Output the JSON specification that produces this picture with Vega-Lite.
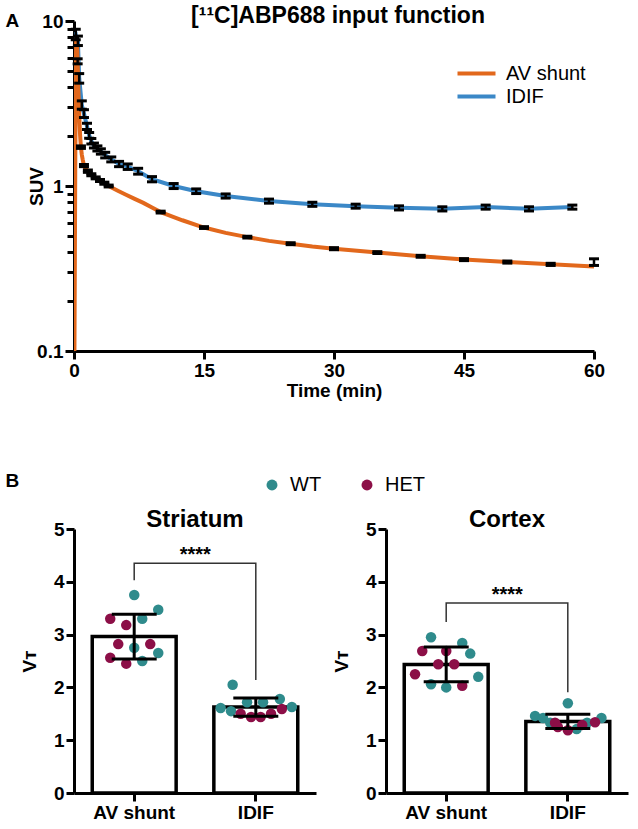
{
  "$schema": "https://vega.github.io/schema/vega-lite/v6.json",
  "padding": {"left": 5, "top": 5, "right": 5, "bottom": 5},
  "background": "white",
  "title": {"text": "A", "anchor": "start", "frame": "bounds", "fontSize": 19, "fontWeight": "bold", "font": "Liberation Sans", "color": "black", "offset": -26},
  "spacing": 72,
  "resolve": {"scale": {"color": "independent"}, "legend": {"color": "independent"}},
  "datasets": {
    "curve": [
      {"series": "AV shunt", "t": 0.05, "suv": 0.1},
      {"series": "AV shunt", "t": 0.1, "suv": 0.35},
      {"series": "AV shunt", "t": 0.15, "suv": 1.5},
      {"series": "AV shunt", "t": 0.2, "suv": 4.5},
      {"series": "AV shunt", "t": 0.25, "suv": 7.6},
      {"series": "AV shunt", "t": 0.3, "suv": 7.9},
      {"series": "AV shunt", "t": 0.35, "suv": 7.3},
      {"series": "AV shunt", "t": 0.42, "suv": 5.7},
      {"series": "AV shunt", "t": 0.5, "suv": 3.9},
      {"series": "AV shunt", "t": 0.6, "suv": 2.7},
      {"series": "AV shunt", "t": 0.7, "suv": 2.05},
      {"series": "AV shunt", "t": 0.8, "suv": 1.72},
      {"series": "AV shunt", "t": 0.9, "suv": 1.55},
      {"series": "AV shunt", "t": 1.0, "suv": 1.45},
      {"series": "AV shunt", "t": 1.15, "suv": 1.33},
      {"series": "AV shunt", "t": 1.3, "suv": 1.28},
      {"series": "AV shunt", "t": 1.6, "suv": 1.23},
      {"series": "AV shunt", "t": 2.0, "suv": 1.17},
      {"series": "AV shunt", "t": 2.5, "suv": 1.12},
      {"series": "AV shunt", "t": 3.0, "suv": 1.08},
      {"series": "AV shunt", "t": 3.5, "suv": 1.04},
      {"series": "AV shunt", "t": 4.0, "suv": 1.0},
      {"series": "AV shunt", "t": 5, "suv": 0.94},
      {"series": "AV shunt", "t": 6, "suv": 0.885},
      {"series": "AV shunt", "t": 7, "suv": 0.835},
      {"series": "AV shunt", "t": 8, "suv": 0.79},
      {"series": "AV shunt", "t": 9, "suv": 0.74},
      {"series": "AV shunt", "t": 10, "suv": 0.695},
      {"series": "AV shunt", "t": 12.5, "suv": 0.62},
      {"series": "AV shunt", "t": 15, "suv": 0.56},
      {"series": "AV shunt", "t": 17.5, "suv": 0.52},
      {"series": "AV shunt", "t": 20, "suv": 0.49},
      {"series": "AV shunt", "t": 22.5, "suv": 0.465},
      {"series": "AV shunt", "t": 25, "suv": 0.447},
      {"series": "AV shunt", "t": 27.5, "suv": 0.43},
      {"series": "AV shunt", "t": 30, "suv": 0.417},
      {"series": "AV shunt", "t": 35, "suv": 0.395},
      {"series": "AV shunt", "t": 40, "suv": 0.375},
      {"series": "AV shunt", "t": 45, "suv": 0.358},
      {"series": "AV shunt", "t": 50, "suv": 0.346},
      {"series": "AV shunt", "t": 55, "suv": 0.335},
      {"series": "AV shunt", "t": 60, "suv": 0.325},
      {"series": "IDIF", "t": 0.15, "suv": 8.6},
      {"series": "IDIF", "t": 0.2, "suv": 8.3},
      {"series": "IDIF", "t": 0.45, "suv": 7.6},
      {"series": "IDIF", "t": 0.6, "suv": 4.5},
      {"series": "IDIF", "t": 0.9, "suv": 3.1},
      {"series": "IDIF", "t": 1.15, "suv": 2.75},
      {"series": "IDIF", "t": 1.5, "suv": 2.3},
      {"series": "IDIF", "t": 1.75, "suv": 2.03},
      {"series": "IDIF", "t": 2.0, "suv": 1.87},
      {"series": "IDIF", "t": 2.3, "suv": 1.76},
      {"series": "IDIF", "t": 2.7, "suv": 1.69},
      {"series": "IDIF", "t": 3.1, "suv": 1.62},
      {"series": "IDIF", "t": 3.6, "suv": 1.54},
      {"series": "IDIF", "t": 4.3, "suv": 1.45},
      {"series": "IDIF", "t": 5.2, "suv": 1.36},
      {"series": "IDIF", "t": 6.2, "suv": 1.31},
      {"series": "IDIF", "t": 7.4, "suv": 1.23},
      {"series": "IDIF", "t": 9.0, "suv": 1.1},
      {"series": "IDIF", "t": 11.5, "suv": 1.0},
      {"series": "IDIF", "t": 14.1, "suv": 0.93},
      {"series": "IDIF", "t": 17.5, "suv": 0.87},
      {"series": "IDIF", "t": 22.5, "suv": 0.81},
      {"series": "IDIF", "t": 27.5, "suv": 0.775},
      {"series": "IDIF", "t": 32.5, "suv": 0.755},
      {"series": "IDIF", "t": 37.5, "suv": 0.737},
      {"series": "IDIF", "t": 42.5, "suv": 0.727},
      {"series": "IDIF", "t": 47.5, "suv": 0.745},
      {"series": "IDIF", "t": 52.5, "suv": 0.727},
      {"series": "IDIF", "t": 57.5, "suv": 0.745}
    ],
    "ebars": [
      {"series": "IDIF", "t": 0.2, "lo": 7.7, "hi": 8.9},
      {"series": "IDIF", "t": 0.45, "lo": 7.1, "hi": 8.1},
      {"series": "IDIF", "t": 0.6, "lo": 4.2, "hi": 4.8},
      {"series": "IDIF", "t": 0.9, "lo": 2.92, "hi": 3.28},
      {"series": "IDIF", "t": 1.15, "lo": 2.6, "hi": 2.9},
      {"series": "IDIF", "t": 1.5, "lo": 2.2, "hi": 2.4},
      {"series": "IDIF", "t": 1.75, "lo": 1.95, "hi": 2.11},
      {"series": "IDIF", "t": 2.0, "lo": 1.8, "hi": 1.94},
      {"series": "IDIF", "t": 2.3, "lo": 1.7, "hi": 1.82},
      {"series": "IDIF", "t": 2.7, "lo": 1.63, "hi": 1.75},
      {"series": "IDIF", "t": 3.1, "lo": 1.56, "hi": 1.68},
      {"series": "IDIF", "t": 3.6, "lo": 1.48, "hi": 1.6},
      {"series": "IDIF", "t": 4.3, "lo": 1.4, "hi": 1.5},
      {"series": "IDIF", "t": 5.2, "lo": 1.31, "hi": 1.41},
      {"series": "IDIF", "t": 6.2, "lo": 1.26, "hi": 1.36},
      {"series": "IDIF", "t": 7.4, "lo": 1.18, "hi": 1.28},
      {"series": "IDIF", "t": 9.0, "lo": 1.06, "hi": 1.14},
      {"series": "IDIF", "t": 11.5, "lo": 0.965, "hi": 1.035},
      {"series": "IDIF", "t": 14.1, "lo": 0.9, "hi": 0.96},
      {"series": "IDIF", "t": 17.5, "lo": 0.845, "hi": 0.895},
      {"series": "IDIF", "t": 22.5, "lo": 0.787, "hi": 0.833},
      {"series": "IDIF", "t": 27.5, "lo": 0.753, "hi": 0.797},
      {"series": "IDIF", "t": 32.5, "lo": 0.734, "hi": 0.776},
      {"series": "IDIF", "t": 37.5, "lo": 0.716, "hi": 0.758},
      {"series": "IDIF", "t": 42.5, "lo": 0.706, "hi": 0.748},
      {"series": "IDIF", "t": 47.5, "lo": 0.724, "hi": 0.766},
      {"series": "IDIF", "t": 52.5, "lo": 0.706, "hi": 0.748},
      {"series": "IDIF", "t": 57.5, "lo": 0.724, "hi": 0.766},
      {"series": "AV shunt", "t": 0.42, "lo": 5.5, "hi": 5.9},
      {"series": "AV shunt", "t": 0.8, "lo": 1.69, "hi": 1.75},
      {"series": "AV shunt", "t": 1.15, "lo": 1.31, "hi": 1.35},
      {"series": "AV shunt", "t": 1.6, "lo": 1.21, "hi": 1.25},
      {"series": "AV shunt", "t": 2.0, "lo": 1.155, "hi": 1.185},
      {"series": "AV shunt", "t": 2.5, "lo": 1.105, "hi": 1.135},
      {"series": "AV shunt", "t": 3.0, "lo": 1.065, "hi": 1.095},
      {"series": "AV shunt", "t": 3.5, "lo": 1.025, "hi": 1.055},
      {"series": "AV shunt", "t": 4.0, "lo": 0.987, "hi": 1.013},
      {"series": "AV shunt", "t": 10, "lo": 0.686, "hi": 0.704},
      {"series": "AV shunt", "t": 15, "lo": 0.553, "hi": 0.567},
      {"series": "AV shunt", "t": 20, "lo": 0.484, "hi": 0.496},
      {"series": "AV shunt", "t": 25, "lo": 0.441, "hi": 0.453},
      {"series": "AV shunt", "t": 30, "lo": 0.411, "hi": 0.423},
      {"series": "AV shunt", "t": 35, "lo": 0.39, "hi": 0.4},
      {"series": "AV shunt", "t": 40, "lo": 0.37, "hi": 0.38},
      {"series": "AV shunt", "t": 45, "lo": 0.353, "hi": 0.363},
      {"series": "AV shunt", "t": 50, "lo": 0.341, "hi": 0.351},
      {"series": "AV shunt", "t": 55, "lo": 0.33, "hi": 0.34},
      {"series": "AV shunt", "t": 60, "lo": 0.33, "hi": 0.362}
    ],
    "vt": [
      {"region": "Striatum", "method": "AV shunt", "geno": "WT", "v": 3.75, "slot": 0},
      {"region": "Striatum", "method": "AV shunt", "geno": "WT", "v": 3.47, "slot": 3},
      {"region": "Striatum", "method": "AV shunt", "geno": "HET", "v": 3.3, "slot": -3},
      {"region": "Striatum", "method": "AV shunt", "geno": "HET", "v": 3.18, "slot": -1},
      {"region": "Striatum", "method": "AV shunt", "geno": "WT", "v": 3.3, "slot": 1},
      {"region": "Striatum", "method": "AV shunt", "geno": "HET", "v": 2.82, "slot": -2},
      {"region": "Striatum", "method": "AV shunt", "geno": "HET", "v": 2.82, "slot": 2},
      {"region": "Striatum", "method": "AV shunt", "geno": "WT", "v": 2.75, "slot": 0},
      {"region": "Striatum", "method": "AV shunt", "geno": "WT", "v": 2.65, "slot": 3},
      {"region": "Striatum", "method": "AV shunt", "geno": "HET", "v": 2.56, "slot": -3},
      {"region": "Striatum", "method": "AV shunt", "geno": "HET", "v": 2.45, "slot": -1},
      {"region": "Striatum", "method": "AV shunt", "geno": "WT", "v": 2.5, "slot": 1},
      {"region": "Striatum", "method": "IDIF", "geno": "WT", "v": 2.05, "slot": -2.9},
      {"region": "Striatum", "method": "IDIF", "geno": "WT", "v": 1.72, "slot": -1.1},
      {"region": "Striatum", "method": "IDIF", "geno": "WT", "v": 1.72, "slot": 0.9},
      {"region": "Striatum", "method": "IDIF", "geno": "WT", "v": 1.78, "slot": 3},
      {"region": "Striatum", "method": "IDIF", "geno": "WT", "v": 1.61, "slot": -4.4},
      {"region": "Striatum", "method": "IDIF", "geno": "WT", "v": 1.55, "slot": -3.1},
      {"region": "Striatum", "method": "IDIF", "geno": "WT", "v": 1.63, "slot": 4.5},
      {"region": "Striatum", "method": "IDIF", "geno": "HET", "v": 1.59, "slot": 3.25},
      {"region": "Striatum", "method": "IDIF", "geno": "HET", "v": 1.5, "slot": -1.9},
      {"region": "Striatum", "method": "IDIF", "geno": "HET", "v": 1.44, "slot": -0.6},
      {"region": "Striatum", "method": "IDIF", "geno": "HET", "v": 1.44, "slot": 0.6},
      {"region": "Striatum", "method": "IDIF", "geno": "HET", "v": 1.5, "slot": 1.9},
      {"region": "Cortex", "method": "AV shunt", "geno": "WT", "v": 2.95, "slot": -1.9},
      {"region": "Cortex", "method": "AV shunt", "geno": "WT", "v": 2.84, "slot": 2},
      {"region": "Cortex", "method": "AV shunt", "geno": "HET", "v": 2.69, "slot": -3},
      {"region": "Cortex", "method": "AV shunt", "geno": "HET", "v": 2.69, "slot": 0},
      {"region": "Cortex", "method": "AV shunt", "geno": "WT", "v": 2.64, "slot": 3},
      {"region": "Cortex", "method": "AV shunt", "geno": "HET", "v": 2.44, "slot": -1},
      {"region": "Cortex", "method": "AV shunt", "geno": "HET", "v": 2.44, "slot": 1},
      {"region": "Cortex", "method": "AV shunt", "geno": "HET", "v": 2.25, "slot": -3.9},
      {"region": "Cortex", "method": "AV shunt", "geno": "WT", "v": 2.2, "slot": 4},
      {"region": "Cortex", "method": "AV shunt", "geno": "WT", "v": 2.06, "slot": -1.9},
      {"region": "Cortex", "method": "AV shunt", "geno": "WT", "v": 2.0, "slot": 0},
      {"region": "Cortex", "method": "AV shunt", "geno": "HET", "v": 2.03, "slot": 2},
      {"region": "Cortex", "method": "IDIF", "geno": "WT", "v": 1.7, "slot": 0},
      {"region": "Cortex", "method": "IDIF", "geno": "WT", "v": 1.46, "slot": -4.1},
      {"region": "Cortex", "method": "IDIF", "geno": "WT", "v": 1.42, "slot": -3.1},
      {"region": "Cortex", "method": "IDIF", "geno": "WT", "v": 1.42, "slot": 4.2},
      {"region": "Cortex", "method": "IDIF", "geno": "WT", "v": 1.33, "slot": -2.2},
      {"region": "Cortex", "method": "IDIF", "geno": "WT", "v": 1.33, "slot": 2.4},
      {"region": "Cortex", "method": "IDIF", "geno": "WT", "v": 1.21, "slot": 1.1},
      {"region": "Cortex", "method": "IDIF", "geno": "HET", "v": 1.33, "slot": -1.6},
      {"region": "Cortex", "method": "IDIF", "geno": "HET", "v": 1.34, "slot": 3.4},
      {"region": "Cortex", "method": "IDIF", "geno": "HET", "v": 1.29, "slot": 1.8},
      {"region": "Cortex", "method": "IDIF", "geno": "HET", "v": 1.25, "slot": -1.25},
      {"region": "Cortex", "method": "IDIF", "geno": "HET", "v": 1.19, "slot": 0}
    ],
    "brk": [
      {"region": "Striatum", "method": "AV shunt", "y": 4.03, "seq": 1},
      {"region": "Striatum", "method": "AV shunt", "y": 4.35, "seq": 2},
      {"region": "Striatum", "method": "IDIF", "y": 4.35, "seq": 3},
      {"region": "Striatum", "method": "IDIF", "y": 2.14, "seq": 4},
      {"region": "Cortex", "method": "AV shunt", "y": 3.24, "seq": 1},
      {"region": "Cortex", "method": "AV shunt", "y": 3.6, "seq": 2},
      {"region": "Cortex", "method": "IDIF", "y": 3.6, "seq": 3},
      {"region": "Cortex", "method": "IDIF", "y": 1.91, "seq": 4}
    ],
    "stars": [
      {"region": "Striatum", "method": "AV shunt", "y": 4.4, "label": "****"},
      {"region": "Cortex", "method": "AV shunt", "y": 3.64, "label": "****"}
    ]
  },
  "vconcat": [
    {
      "width": 520,
      "height": 330,
      "title": {"text": "[¹¹C]ABP688 input function", "fontSize": 23, "fontWeight": "bold", "font": "Liberation Sans", "color": "black", "offset": -16, "dx": 4},
      "layer": [
        {
          "data": {"name": "curve"},
          "transform": [{"filter": "datum.series == 'IDIF'"}],
          "mark": {"type": "line", "strokeWidth": 4, "clip": true},
          "encoding": {
            "x": {"field": "t", "type": "quantitative", "title": "Time (min)", "scale": {"domain": [0, 60], "nice": false}, "axis": {"values": [0, 15, 30, 45, 60], "labelFlush": false, "titlePadding": 1}},
            "y": {"field": "suv", "type": "quantitative", "title": "SUV", "scale": {"type": "log", "domain": [0.1, 10], "nice": false}, "axis": {"titlePadding": -10, "values": [0.1, 0.2, 0.3, 0.4, 0.5, 0.6, 0.7, 0.8, 0.9, 1, 2, 3, 4, 5, 6, 7, 8, 9, 10], "labelExpr": "datum.value == 0.1 ? '0.1' : datum.value == 1 ? '1' : datum.value == 10 ? '10' : ''", "labelOverlap": false, "labelFlush": false, "labelBound": false, "tickSize": {"condition": {"test": "datum.value == 0.1 || datum.value == 1 || datum.value == 10", "value": 9}, "value": 7}}},
            "color": {"field": "series", "type": "nominal", "scale": {"domain": ["AV shunt", "IDIF"], "range": ["#E2681C", "#3B88C7"]}, "legend": {"orient": "none", "legendX": 391, "legendY": 41, "title": null, "symbolType": "M-2,0H2", "symbolStrokeWidth": 4, "symbolSize": 361, "labelFontSize": 20, "labelFont": "Liberation Sans", "labelColor": "black", "rowPadding": 1, "labelOffset": 18}}
          }
        },
        {
          "data": {"name": "curve"},
          "transform": [{"filter": "datum.series == 'AV shunt'"}],
          "mark": {"type": "line", "strokeWidth": 4, "clip": true},
          "encoding": {
            "x": {"field": "t", "type": "quantitative", "title": "Time (min)"},
            "y": {"field": "suv", "type": "quantitative", "title": "SUV"},
            "color": {"field": "series", "type": "nominal"}
          }
        },
        {
          "data": {"name": "ebars"},
          "mark": {"type": "errorbar", "color": "black", "opacity": 1, "thickness": 2.5, "ticks": {"size": 10, "thickness": 3}},
          "encoding": {
            "x": {"field": "t", "type": "quantitative", "title": "Time (min)"},
            "y": {"field": "lo", "type": "quantitative", "title": "SUV"},
            "y2": {"field": "hi"}
          }
        }
      ]
    },
    {
      "title": {"text": "B", "anchor": "start", "frame": "bounds", "fontSize": 19, "fontWeight": "bold", "font": "Liberation Sans", "color": "black", "dx": -15, "offset": -16},
      "spacing": 16,
      "hconcat": [
        {
          "width": 242,
          "height": 264,
          "title": {"text": "Striatum", "offset": -12},
          "resolve": {"scale": {"xOffset": "independent"}},
          "layer": [
            {
              "data": {"name": "vt"},
              "transform": [{"filter": "datum.region == 'Striatum'"}],
              "mark": {"type": "bar", "fill": "white", "stroke": "black", "strokeWidth": 3.5},
              "encoding": {
                "x": {"field": "method", "type": "nominal", "title": null, "sort": ["AV shunt", "IDIF"], "scale": {"paddingInner": 0.31, "paddingOuter": 0.15}, "axis": {"labelAngle": 0}},
                "y": {"aggregate": "mean", "field": "v", "type": "quantitative", "title": "Vᴛ", "scale": {"domain": [0, 5], "nice": false}, "axis": {"values": [0, 1, 2, 3, 4, 5], "titlePadding": 14}}
              }
            },
            {
              "data": {"name": "vt"},
              "transform": [{"filter": "datum.region == 'Striatum'"}],
              "mark": {"type": "circle", "size": 110, "opacity": 1},
              "encoding": {
                "x": {"field": "method", "type": "nominal", "title": null},
                "xOffset": {"field": "slot", "type": "quantitative", "scale": {"domain": [-5, 5], "range": [2, 82]}},
                "y": {"field": "v", "type": "quantitative", "title": "Vᴛ"},
                "color": {"field": "geno", "type": "nominal", "scale": {"domain": ["WT", "HET"], "range": ["#2F8B8C", "#8C0F47"]}, "legend": {"orient": "none", "legendX": 188, "legendY": -54, "direction": "horizontal", "title": null, "symbolType": "circle", "symbolSize": 120, "symbolStrokeWidth": 0, "labelFontSize": 20, "labelFont": "Liberation Sans", "labelColor": "black", "columnPadding": 35, "labelOffset": 8}}
              }
            },
            {
              "data": {"name": "vt"},
              "transform": [{"filter": "datum.region == 'Striatum'"}],
              "mark": {"type": "errorbar", "extent": "stdev", "color": "black", "opacity": 1, "thickness": 3, "ticks": {"size": 45, "thickness": 3}},
              "encoding": {
                "x": {"field": "method", "type": "nominal", "title": null},
                "y": {"field": "v", "type": "quantitative", "title": "Vᴛ"}
              }
            },
            {
              "data": {"name": "brk"},
              "transform": [{"filter": "datum.region == 'Striatum'"}],
              "mark": {"type": "line", "color": "#333333", "strokeWidth": 1.5},
              "encoding": {
                "x": {"field": "method", "type": "nominal", "title": null},
                "y": {"field": "y", "type": "quantitative", "title": "Vᴛ"},
                "order": {"field": "seq"}
              }
            },
            {
              "data": {"name": "stars"},
              "transform": [{"filter": "datum.region == 'Striatum'"}],
              "mark": {"type": "text", "dx": 61, "fontSize": 20, "fontWeight": "bold", "font": "Liberation Sans", "baseline": "alphabetic", "color": "black"},
              "encoding": {
                "x": {"field": "method", "type": "nominal", "title": null},
                "y": {"field": "y", "type": "quantitative", "title": "Vᴛ"},
                "text": {"field": "label"}
              }
            }
          ]
        },
        {
          "width": 242,
          "height": 264,
          "title": {"text": "Cortex", "offset": -12},
          "resolve": {"scale": {"xOffset": "independent"}},
          "layer": [
            {
              "data": {"name": "vt"},
              "transform": [{"filter": "datum.region == 'Cortex'"}],
              "mark": {"type": "bar", "fill": "white", "stroke": "black", "strokeWidth": 3.5},
              "encoding": {
                "x": {"field": "method", "type": "nominal", "title": null, "sort": ["AV shunt", "IDIF"], "scale": {"paddingInner": 0.31, "paddingOuter": 0.15}, "axis": {"labelAngle": 0}},
                "y": {"aggregate": "mean", "field": "v", "type": "quantitative", "title": "Vᴛ", "scale": {"domain": [0, 5], "nice": false}, "axis": {"values": [0, 1, 2, 3, 4, 5], "titlePadding": 14}}
              }
            },
            {
              "data": {"name": "vt"},
              "transform": [{"filter": "datum.region == 'Cortex'"}],
              "mark": {"type": "circle", "size": 110, "opacity": 1},
              "encoding": {
                "x": {"field": "method", "type": "nominal", "title": null},
                "xOffset": {"field": "slot", "type": "quantitative", "scale": {"domain": [-5, 5], "range": [2, 82]}},
                "y": {"field": "v", "type": "quantitative", "title": "Vᴛ"},
                "color": {"field": "geno", "type": "nominal"}
              }
            },
            {
              "data": {"name": "vt"},
              "transform": [{"filter": "datum.region == 'Cortex'"}],
              "mark": {"type": "errorbar", "extent": "stdev", "color": "black", "opacity": 1, "thickness": 3, "ticks": {"size": 45, "thickness": 3}},
              "encoding": {
                "x": {"field": "method", "type": "nominal", "title": null},
                "y": {"field": "v", "type": "quantitative", "title": "Vᴛ"}
              }
            },
            {
              "data": {"name": "brk"},
              "transform": [{"filter": "datum.region == 'Cortex'"}],
              "mark": {"type": "line", "color": "#333333", "strokeWidth": 1.5},
              "encoding": {
                "x": {"field": "method", "type": "nominal", "title": null},
                "y": {"field": "y", "type": "quantitative", "title": "Vᴛ"},
                "order": {"field": "seq"}
              }
            },
            {
              "data": {"name": "stars"},
              "transform": [{"filter": "datum.region == 'Cortex'"}],
              "mark": {"type": "text", "dx": 61, "fontSize": 20, "fontWeight": "bold", "font": "Liberation Sans", "baseline": "alphabetic", "color": "black"},
              "encoding": {
                "x": {"field": "method", "type": "nominal", "title": null},
                "y": {"field": "y", "type": "quantitative", "title": "Vᴛ"},
                "text": {"field": "label"}
              }
            }
          ]
        }
      ]
    }
  ],
  "config": {
    "font": "Liberation Sans",
    "view": {"stroke": null},
    "axis": {"domainColor": "black", "domainWidth": 3, "tickColor": "black", "tickWidth": 3, "tickSize": 8, "labelFont": "Liberation Sans", "labelFontSize": 19, "labelFontWeight": "bold", "labelColor": "black", "labelPadding": 2, "titleFont": "Liberation Sans", "titleFontSize": 19, "titleFontWeight": "bold", "titleColor": "black", "grid": false},
    "title": {"font": "Liberation Sans", "fontSize": 24, "fontWeight": "bold", "color": "black", "offset": 4}
  }
}
